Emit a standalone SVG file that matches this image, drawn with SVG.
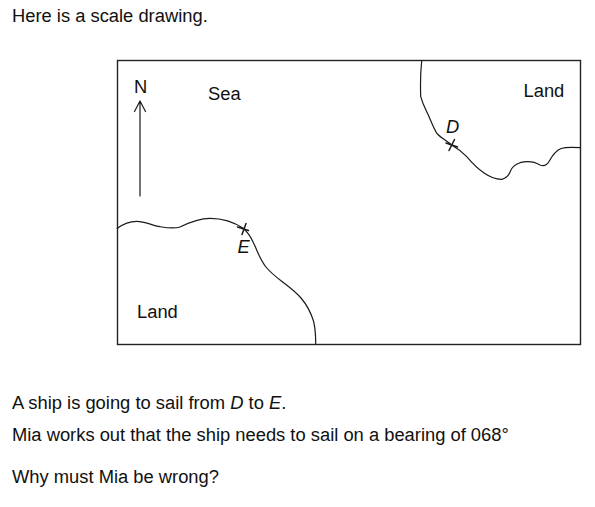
<svg xmlns="http://www.w3.org/2000/svg" width="595" height="507" viewBox="0 0 595 507">
<style>
text{font-family:"Liberation Sans",Arial,sans-serif;font-size:18.35px;fill:#111}
.i{font-style:italic}
.l{fill:none;stroke:#1a1a1a;stroke-width:1.2;stroke-linecap:round;stroke-linejoin:round}
.x{stroke-width:1.5}
</style>
<rect width="595" height="507" fill="#fff"/>
<g id="question-top"><text x="12" y="22">Here is a scale drawing.</text></g>
<g id="map">
<rect x="117.500" y="60.500" width="463" height="284" fill="none" stroke="#222" stroke-width="1.4"/>
<path id="coast-e" class="l" d="M117.3 228.3C123 224 130 221.3 136.7 221.3C145 221.300 152 225.500 160 226.700C168 228 174 229 180 227C188 223 198 218.300 210 218.300C222 218.300 234 222 243.300 228.300C250 234 252 240 255 246C259 256 262 262 266 267C271 273 276 277 282 281.500C290 287.500 296 292 301 298C307 305 311 313 313.500 321C315.500 329 315.700 336 315.700 343.700"/>
<path id="coast-d" class="l" d="M421.700 60.700C420.500 72 420.300 85 420.700 96.700C423 105 426 110 428.300 115C431 121 434 129 437 133.500C441 138 447 141 451.700 145C457 148 462 152 466.700 156.700C472 163 478 169 484 173C490 177 496 179.500 501.700 179.300C507 178.500 509 175 510.500 171C512 167 515 164.500 520 162.700C528 160.500 535 162 540 165C544 166.500 547 165 549 161.500C552 156 555 151 561 148.500C567 146.800 574 147.300 580 147.700"/>
<path class="l x" d="M237.500 227L248.500 230.500M246 223.500L242 234.500"/>
<path class="l x" d="M446 143L457.500 147M454.500 139.500L449 150.500"/>
<path class="l" d="M140 196V101M134.500 111.500L140 101L145.500 111.500" stroke-width="1.4"/>
<text x="134" y="93">N</text>
<text x="208" y="99.700">Sea</text>
<text x="523.500" y="97">Land</text>
<text x="137" y="318">Land</text>
<text class="i" x="446" y="133">D</text>
<text class="i" x="237.500" y="253">E</text>
</g>
<g id="question-bottom">
<text x="12" y="409">A ship is going to sail from <tspan class="i">D</tspan> to <tspan class="i">E</tspan>.</text>
<text x="12" y="441">Mia works out that the ship needs to sail on a bearing of 068°</text>
<text x="12" y="483">Why must Mia be wrong?</text>
</g>
</svg>
